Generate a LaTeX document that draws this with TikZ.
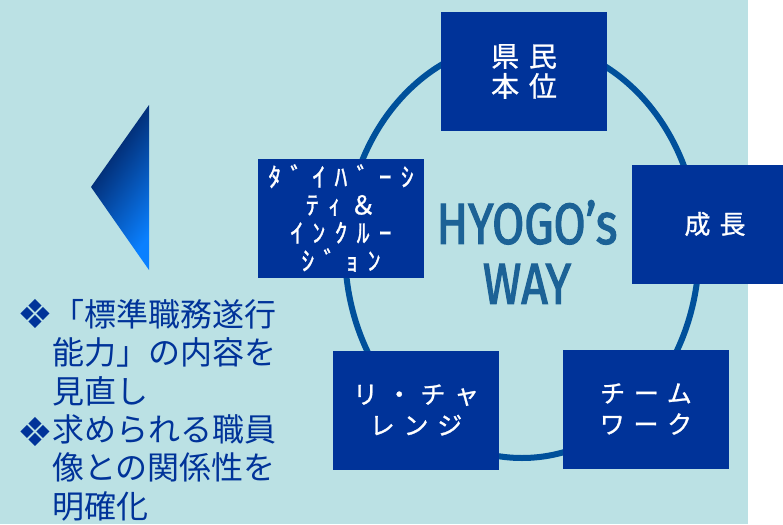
\documentclass[tikz,border=0pt]{standalone}
\usepackage{fontspec}
\setmainfont{Noto Sans CJK JP}
\newfontfamily\wayfont{Fira Sans}[FakeStretch=0.8,FakeBold=2]
\newfontfamily\boxfont{Noto Sans CJK JP}[LetterSpace=35,FakeBold=1]
\newfontfamily\bulletfont{DejaVu Sans}
\usetikzlibrary{positioning}

\definecolor{bgblue}{RGB}{187,225,228}
\definecolor{boxblue}{RGB}{0,51,153}
\definecolor{ringblue}{RGB}{0,80,155}
\definecolor{waytext}{RGB}{28,98,150}
\definecolor{listblue}{RGB}{0,51,153}
\definecolor{tridark}{RGB}{0,20,75}
\definecolor{trilight}{RGB}{10,128,255}

\tikzset{
  waybox/.style={fill=boxblue, text=white, inner sep=0pt, minimum width=166pt,
    minimum height=119pt, align=center},
  listtext/.style={text=listblue, inner sep=0pt, anchor=north west, align=left,
    font=\fontsize{32}{38.5}\selectfont},
  listmark/.style={text=listblue, inner sep=0pt, font=\bulletfont\fontsize{40}{40}\selectfont}
}

\begin{document}
\begin{tikzpicture}[x=1pt,y=-1pt]
\useasboundingbox (0,0) rectangle (783,524);
\fill[bgblue] (0,0) rectangle (748,524);
\shade[top color=tridark, bottom color=trilight, shading angle=55]
  (91,187) -- (149,105) -- (149,270) -- cycle;
\draw[ringblue, line width=6pt] (522,250) ellipse [x radius=177pt, y radius=208pt];
\node[text=waytext, align=center, font=\wayfont\fontsize{58}{60}\selectfont] (way) at (527,252) {HYOGO’s\\WAY};
\node[waybox, font=\boxfont\fontsize{28}{30}\selectfont] (kenmin) at (524,71.5) {県民\\本位};
\node[waybox, font=\boxfont\fontsize{26}{30}\selectfont] (seicho) at (715,224) {成長};
\node[waybox, font=\boxfont\fontsize{26}{28}\selectfont] (diversity) at (341,218) {ﾀﾞｲﾊﾞｰｼ\\ﾃｨ＆\\ｲﾝｸﾙｰ\\ｼﾞｮﾝ};
\node[waybox, font=\boxfont\fontsize{25}{31}\selectfont] (rechallenge) at (416,410) {リ・チャ\\レンジ};
\node[waybox, font=\boxfont\fontsize{25}{31}\selectfont] (teamwork) at (646,409) {チーム\\ワーク};
\node[listtext] (item1) at (52,299) {「標準職務遂行\\能力」の内容を\\見直し};
\node[listtext] (item2) at (52,414) {求められる職員\\像との関係性を\\明確化};
\node[listmark] (mark1) at (35,314) {❖};
\node[listmark] (mark2) at (35,432) {❖};
\end{tikzpicture}
\end{document}
